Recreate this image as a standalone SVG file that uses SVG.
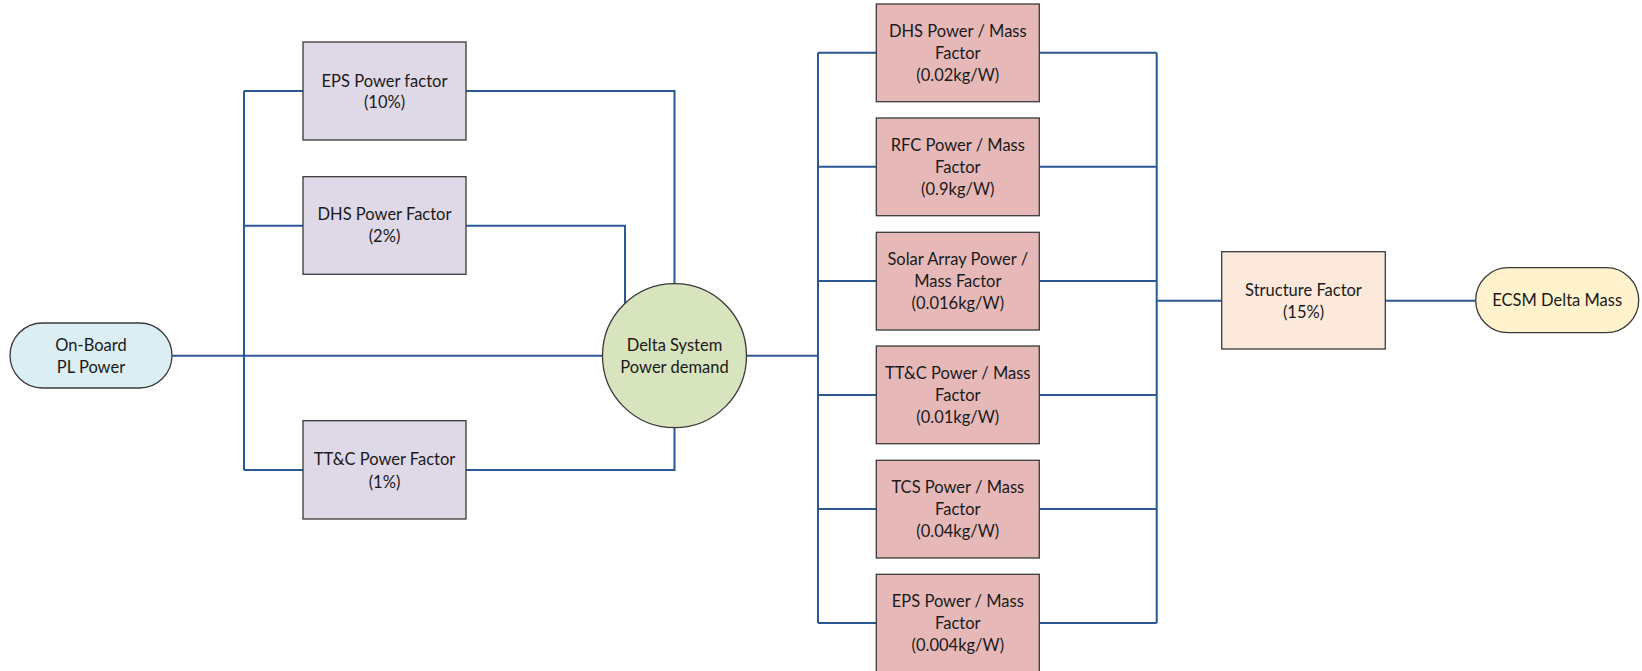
<svg xmlns="http://www.w3.org/2000/svg" width="1642" height="671" viewBox="0 0 1642 671">
  <style>
    .bg { fill: #ffffff; }
    .box { stroke: #3a3a3a; stroke-width: 1.3; }
    .pf { fill: #dfd8e6; }
    .mf { fill: #e6b9b8; }
    .sf { fill: #fce9db; }
    .src { fill: #dbeef3; stroke: #3a3a3a; stroke-width: 1.3; }
    .out { fill: #fff2cc; stroke: #3a3a3a; stroke-width: 1.3; }
    .hub { fill: #d7e4bd; stroke: #3a3a3a; stroke-width: 1.3; }
    .lbl { font-family: Lato, "Liberation Sans", sans-serif; font-size: 16.5px; fill: #1a1a1a; text-anchor: middle; }
    .wire { fill: none; stroke: #2b5797; stroke-width: 2; }
  </style>
  <rect class="bg" x="0" y="0" width="1642" height="671"/>

  <!-- connectors -->
  <g id="connectors" class="wire">
    <!-- power side -->
    <path d="M172 355.7 H602.5"/>
    <path d="M244 91 V470"/>
    <path d="M244 91 H303 M466 91 H674.5 V284"/>
    <path d="M244 225.7 H303 M466 225.7 H625 V303.4"/>
    <path d="M244 470 H303 M466 470 H674.5 V427"/>
    <!-- mass side -->
    <path d="M746.5 355.7 H818"/>
    <path d="M818 52.7 V623"/>
    <path d="M1156.7 52.7 V623"/>
    <path d="M818 52.7 H876.3 M1039.3 52.7 H1156.7"/>
    <path d="M818 166.7 H876.3 M1039.3 166.7 H1156.7"/>
    <path d="M818 281 H876.3 M1039.3 281 H1156.7"/>
    <path d="M818 395 H876.3 M1039.3 395 H1156.7"/>
    <path d="M818 509 H876.3 M1039.3 509 H1156.7"/>
    <path d="M818 623 H876.3 M1039.3 623 H1156.7"/>
    <path d="M1156.7 300.7 H1221.7 M1385.3 300.7 H1475.7"/>
  </g>

  <!-- source -->
  <g id="onboard-pl-power">
    <rect class="src" x="10" y="323" width="162" height="65" rx="32.5" ry="32.5"/>
    <text class="lbl" x="91" y="350.8">On-Board</text>
    <text class="lbl" x="91" y="373.3">PL Power</text>
  </g>

  <!-- power factors -->
  <g id="eps-power-factor">
    <rect class="box pf" x="303" y="42" width="163" height="98"/>
    <text class="lbl" x="384.5" y="86.5">EPS Power factor</text>
    <text class="lbl" x="384.5" y="107.5">(10%)</text>
  </g>
  <g id="dhs-power-factor">
    <rect class="box pf" x="303" y="176.7" width="163" height="97.6"/>
    <text class="lbl" x="384.5" y="220.2">DHS Power Factor</text>
    <text class="lbl" x="384.5" y="242.4">(2%)</text>
  </g>
  <g id="ttc-power-factor">
    <rect class="box pf" x="303" y="420.7" width="163" height="98.3"/>
    <text class="lbl" x="384.5" y="465.4">TT&amp;C Power Factor</text>
    <text class="lbl" x="384.5" y="488">(1%)</text>
  </g>

  <!-- hub -->
  <g id="delta-system-power-demand">
    <circle class="hub" cx="674.5" cy="355.7" r="72"/>
    <text class="lbl" x="674.5" y="351.4">Delta System</text>
    <text class="lbl" x="674.5" y="373.4">Power demand</text>
  </g>

  <!-- power / mass factors -->
  <g id="dhs-mass-factor">
    <rect class="box mf" x="876.3" y="4" width="163" height="97.7"/>
    <text class="lbl" x="957.8" y="36.6">DHS Power / Mass</text>
    <text class="lbl" x="957.8" y="58.6">Factor</text>
    <text class="lbl" x="957.8" y="80.6">(0.02kg/W)</text>
  </g>
  <g id="rfc-mass-factor">
    <rect class="box mf" x="876.3" y="118" width="163" height="97.7"/>
    <text class="lbl" x="957.8" y="150.6">RFC Power / Mass</text>
    <text class="lbl" x="957.8" y="172.6">Factor</text>
    <text class="lbl" x="957.8" y="194.6">(0.9kg/W)</text>
  </g>
  <g id="solar-array-mass-factor">
    <rect class="box mf" x="876.3" y="232.3" width="163" height="97.7"/>
    <text class="lbl" x="957.8" y="264.9">Solar Array Power /</text>
    <text class="lbl" x="957.8" y="286.9">Mass Factor</text>
    <text class="lbl" x="957.8" y="308.9">(0.016kg/W)</text>
  </g>
  <g id="ttc-mass-factor">
    <rect class="box mf" x="876.3" y="346" width="163" height="97.7"/>
    <text class="lbl" x="957.8" y="378.6">TT&amp;C Power / Mass</text>
    <text class="lbl" x="957.8" y="400.6">Factor</text>
    <text class="lbl" x="957.8" y="422.6">(0.01kg/W)</text>
  </g>
  <g id="tcs-mass-factor">
    <rect class="box mf" x="876.3" y="460.3" width="163" height="97.7"/>
    <text class="lbl" x="957.8" y="492.9">TCS Power / Mass</text>
    <text class="lbl" x="957.8" y="514.9">Factor</text>
    <text class="lbl" x="957.8" y="536.9">(0.04kg/W)</text>
  </g>
  <g id="eps-mass-factor">
    <rect class="box mf" x="876.3" y="574.3" width="163" height="97.7"/>
    <text class="lbl" x="957.8" y="606.9">EPS Power / Mass</text>
    <text class="lbl" x="957.8" y="628.9">Factor</text>
    <text class="lbl" x="957.8" y="650.9">(0.004kg/W)</text>
  </g>

  <!-- structure and result -->
  <g id="structure-factor">
    <rect class="box sf" x="1221.7" y="251.7" width="163.6" height="97.3"/>
    <text class="lbl" x="1303.5" y="295.9">Structure Factor</text>
    <text class="lbl" x="1303.5" y="318.2">(15%)</text>
  </g>
  <g id="ecsm-delta-mass">
    <rect class="out" x="1475.7" y="267.7" width="163" height="65" rx="32.5" ry="32.5"/>
    <text class="lbl" x="1557.2" y="305.9">ECSM Delta Mass</text>
  </g>
</svg>
